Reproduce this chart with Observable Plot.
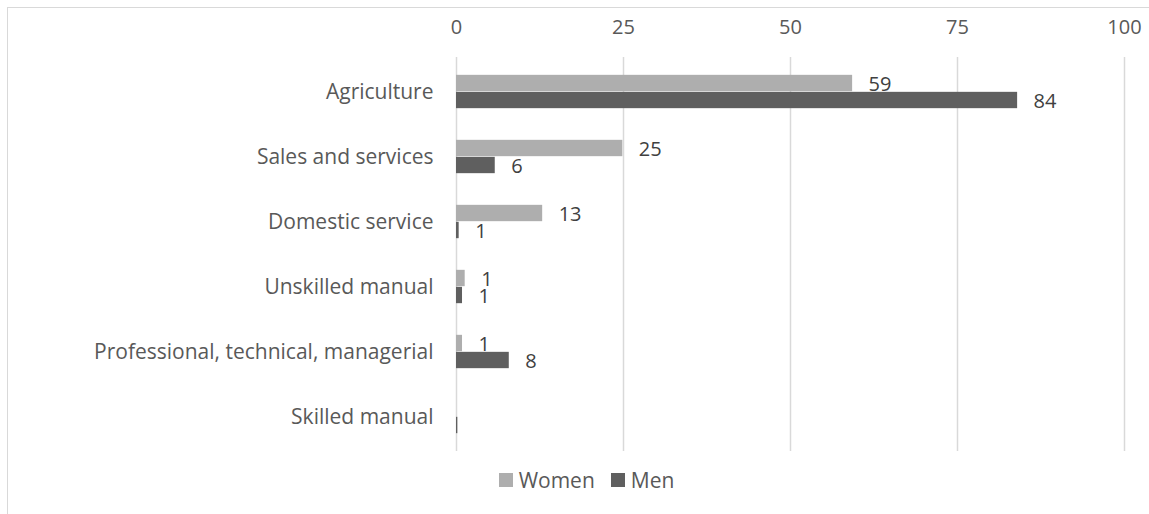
<!DOCTYPE html>
<html>
<head>
<meta charset="utf-8">
<script src="https://cdn.jsdelivr.net/npm/d3@7"></script>
<script src="https://cdn.jsdelivr.net/npm/@observablehq/plot@0.6"></script>
<style>
  html, body { margin: 0; padding: 0; background: #fff; overflow: hidden; }
  body { width: 1149px; height: 514px; position: relative; font-family: "Open Sans", sans-serif; }
  #frame { position: absolute; left: 7px; top: 7px; width: 1200px; height: 600px; border: 1px solid #d9d9d9; box-sizing: border-box; }
  #chart { position: absolute; left: 0; top: 0; }
  #legend { position: absolute; top: 466px; left: 0; width: 1149px; display: flex; justify-content: center; font-size: 21px; color: #595959; padding-left: 24px; box-sizing: border-box; }
  .item { display: flex; align-items: center; margin: 0 8px; }
  .sw { width: 14px; height: 14px; display: inline-block; margin-right: 6px; }
</style>
</head>
<body>
<div id="frame"></div>
<div id="chart"></div>
<div id="legend"></div>
<script>
const categories = ["Agriculture", "Sales and services", "Domestic service", "Unskilled manual", "Professional, technical, managerial", "Skilled manual"];
const women = [59.3, 24.9, 12.9, 1.3, 0.9, 0];
const men = [84, 5.8, 0.4, 0.9, 7.9, 0.2];
const womenLabels = ["59", "25", "13", "1", "1", ""];
const menLabels = ["84", "6", "1", "1", "8", ""];
const xTicks = [0, 25, 50, 75, 100];
const seriesNames = ["Women", "Men"];
const seriesColors = ["#aeaeae", "#5f5f5f"];

const W = 1149, H = 460, mT = 57, mB = 9, mL = 456, mR = 25;
const bw = (H - mT - mB) / categories.length;
const barH = 17;

const womenData = categories.map((c, i) => ({cat: c, v: women[i], label: womenLabels[i]}));
const menData = categories.map((c, i) => ({cat: c, v: men[i], label: menLabels[i]}));

const chart = Plot.plot({
  width: W, height: H,
  marginTop: mT, marginBottom: mB, marginLeft: mL, marginRight: mR,
  style: {fontFamily: "'Open Sans', sans-serif", fontSize: "20px", color: "#595959", background: "transparent"},
  x: {domain: [0, 100], ticks: xTicks, axis: null},
  y: {domain: categories, padding: 0, axis: null},
  marks: [
    Plot.ruleX(xTicks, {stroke: "#d9d9d9", strokeWidth: 1.5}),
    Plot.axisX({anchor: "top", ticks: xTicks, tickSize: 0, tickPadding: 24, fontSize: 20, fill: "#595959", label: null}),
    Plot.axisY({domain: categories, tickSize: 0, tickPadding: 23, fontSize: 21, fill: "#595959", label: null}),
    Plot.barX(womenData, {x: "v", y: "cat", fill: seriesColors[0], insetTop: bw / 2 - barH, insetBottom: bw / 2}),
    Plot.barX(menData, {x: "v", y: "cat", fill: seriesColors[1], insetTop: bw / 2, insetBottom: bw / 2 - barH}),
    Plot.text(womenData, {x: "v", y: "cat", text: "label", dx: 16, dy: -7, textAnchor: "start", fill: "#404040", fontSize: 20}),
    Plot.text(menData, {x: "v", y: "cat", text: "label", dx: 16, dy: 10, textAnchor: "start", fill: "#404040", fontSize: 20})
  ]
});
document.getElementById("chart").appendChild(chart);

const legend = document.getElementById("legend");
seriesNames.forEach((n, i) => {
  const it = document.createElement("div");
  it.className = "item";
  const sw = document.createElement("span");
  sw.className = "sw";
  sw.style.background = seriesColors[i];
  it.appendChild(sw);
  it.appendChild(document.createTextNode(n));
  legend.appendChild(it);
});
</script>
</body>
</html>
